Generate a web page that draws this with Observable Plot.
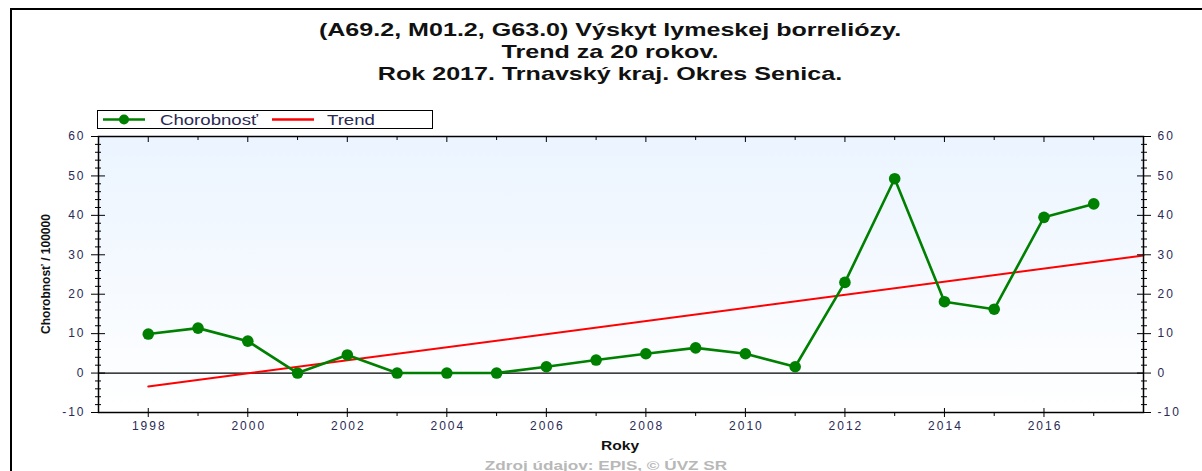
<!DOCTYPE html>
<html><head><meta charset="utf-8">
<script src="https://cdn.jsdelivr.net/npm/d3@7"></script>
<script src="https://cdn.jsdelivr.net/npm/@observablehq/plot@0.6"></script>
<style>
body{margin:0;background:#fff;font-family:"Liberation Sans",Arial,sans-serif;}
#wrap{position:relative;width:1202px;height:471px;overflow:hidden;background:#fff;}
#frame{position:absolute;left:10px;top:8px;width:1300px;height:600px;border-left:2px solid #000;border-top:2px solid #000;}
#title{position:absolute;left:0;width:1220px;top:19px;text-align:center;font-weight:bold;font-size:19px;line-height:22px;color:#111;transform:scaleX(1.32);transform-origin:610px 0;}
#chart{position:absolute;left:0;top:0;}
#chart svg text{letter-spacing:2px;}
#legend{position:absolute;left:97px;top:110px;width:334px;height:17px;border:1px solid #000;background:#fff;font-size:15px;color:#2a2a55;}
#legend .item{position:absolute;top:0;height:17px;line-height:17px;white-space:nowrap;transform:scaleX(1.24);transform-origin:0 0;}
#legend svg{position:absolute;top:0;}
#ylabel{position:absolute;left:46px;top:274px;transform:translate(-50%,-50%) rotate(-90deg);font-weight:bold;font-size:12px;color:#111;white-space:nowrap;}
#xlabel{position:absolute;left:620px;top:445px;transform:translate(-50%,-50%) scaleX(1.2);font-weight:bold;font-size:13px;color:#111;}
#caption{position:absolute;left:606px;top:465px;transform:translate(-50%,-50%) scaleX(1.32);font-weight:bold;font-size:13px;color:#b8b8b8;white-space:nowrap;}
</style></head>
<body>
<div id="wrap">
  <div id="frame"></div>
  <div id="chart"></div>
  <div id="title"></div>
  <div id="legend"></div>
  <div id="ylabel"></div>
  <div id="xlabel"></div>
  <div id="caption"></div>
</div>
<script>
// ---- data ----
const titleLines = ["(A69.2, M01.2, G63.0) Výskyt lymeskej borreliózy.", "Trend za 20 rokov.", "Rok 2017. Trnavský kraj. Okres Senica."];
const years = [1998,1999,2000,2001,2002,2003,2004,2005,2006,2007,2008,2009,2010,2011,2012,2013,2014,2015,2016,2017];
const incidence = [9.9,11.4,8.1,0,4.6,0,0,0,1.6,3.3,4.9,6.4,4.9,1.6,23.0,49.3,18.1,16.2,39.5,42.9];
const trendYears = [1998, 2018];
const trendValues = [-3.4, 29.8];
const xTickLabels = [1998,2000,2002,2004,2006,2008,2010,2012,2014,2016];
const xMinorTicks = [1999,2001,2003,2005,2007,2009,2011,2013,2015,2017];
const yTickLabels = [-10,0,10,20,30,40,50,60];
const yMinorTicks = [-8,-6,-4,-2,2,4,6,8,12,14,16,18,22,24,26,28,32,34,36,38,42,44,46,48,52,54,56,58];
const seriesNames = ["Chorobnosť", "Trend"];
const seriesColors = ["#008000", "#ff0000"];
const yLabel = "Chorobnosť / 100000";
const xLabel = "Roky";
const caption = "Zdroj údajov: EPIS, © ÚVZ SR";

const data = years.map((y, i) => ({year: y, value: incidence[i]}));
const trend = trendYears.map((y, i) => ({year: y, value: trendValues[i]}));

function bgGradient(index, scales, values, dims) {
  const ns = "http://www.w3.org/2000/svg";
  const g = document.createElementNS(ns, "g");
  const w = dims.width - dims.marginLeft - dims.marginRight;
  const h = dims.height - dims.marginTop - dims.marginBottom;
  g.innerHTML = `<defs><linearGradient id="bgGrad" x1="0" y1="0" x2="0" y2="1"><stop offset="0" stop-color="#ebf4ff"/><stop offset="1" stop-color="#ffffff"/></linearGradient></defs><rect x="${dims.marginLeft}" y="${dims.marginTop}" width="${w}" height="${h}" fill="url(#bgGrad)"/>`;
  return g;
}

const blank = () => "";
const num = d => String(d);
const txt = "#2a2a55";
const plot = Plot.plot({
  width: 1202, height: 471,
  marginLeft: 98, marginRight: 59, marginTop: 136, marginBottom: 59,
  style: {background: "transparent", fontFamily: "'Liberation Sans', Arial, sans-serif", fontSize: "12px", color: "#000"},
  x: {domain: [1997, 2018]},
  y: {domain: [-10, 60]},
  marks: [
    bgGradient,
    Plot.ruleY([0], {stroke: "#000", strokeWidth: 1.2}),
    Plot.line(trend, {x: "year", y: "value", stroke: seriesColors[1], strokeWidth: 2}),
    Plot.line(data, {x: "year", y: "value", stroke: seriesColors[0], strokeWidth: 2.6}),
    Plot.dot(data, {x: "year", y: "value", r: 5.8, fill: seriesColors[0]}),
    Plot.frame({stroke: "#000", strokeWidth: 1.5}),
    // bottom axis
    Plot.axisX(xTickLabels, {anchor: "bottom", tickSize: 0, tickPadding: 9, tickFormat: num, color: txt, label: null, fontSize: 12, dx: 1}),
    Plot.axisX(xTickLabels, {anchor: "bottom", tickSize: 5, tickFormat: blank, label: null}),
    Plot.axisX(xTickLabels, {anchor: "bottom", tickSize: -4, tickFormat: blank, label: null}),
    Plot.axisX(xMinorTicks, {anchor: "bottom", tickSize: 4, tickFormat: blank, label: null}),
    // top axis (inward ticks)
    Plot.axisX(xTickLabels, {anchor: "top", tickSize: -5, tickFormat: blank, label: null}),
    Plot.axisX(xMinorTicks, {anchor: "top", tickSize: -3, tickFormat: blank, label: null}),
    // left axis
    Plot.axisY(yTickLabels, {anchor: "left", tickSize: 0, tickPadding: 13, tickFormat: num, color: txt, label: null, fontSize: 12}),
    Plot.axisY(yTickLabels, {anchor: "left", tickSize: 7, tickFormat: blank, label: null}),
    Plot.axisY(yTickLabels, {anchor: "left", tickSize: -7, tickFormat: blank, label: null}),
    Plot.axisY(yMinorTicks, {anchor: "left", tickSize: 3, tickFormat: blank, label: null}),
    Plot.axisY(yMinorTicks, {anchor: "left", tickSize: -3, tickFormat: blank, label: null}),
    // right axis
    Plot.axisY(yTickLabels, {anchor: "right", tickSize: 0, tickPadding: 14, tickFormat: num, color: txt, label: null, fontSize: 12}),
    Plot.axisY(yTickLabels, {anchor: "right", tickSize: 7, tickFormat: blank, label: null}),
    Plot.axisY(yTickLabels, {anchor: "right", tickSize: -7, tickFormat: blank, label: null}),
    Plot.axisY(yMinorTicks, {anchor: "right", tickSize: 3, tickFormat: blank, label: null}),
    Plot.axisY(yMinorTicks, {anchor: "right", tickSize: -3, tickFormat: blank, label: null})
  ]
});
document.getElementById("chart").appendChild(plot);

document.getElementById("title").innerHTML = titleLines.map(t => `<div>${t}</div>`).join("");
document.getElementById("ylabel").textContent = yLabel;
document.getElementById("xlabel").textContent = xLabel;
document.getElementById("caption").textContent = caption;

const legend = document.getElementById("legend");
const legendX = [[5, 62], [174, 229]];
seriesNames.forEach((name, i) => {
  const [sx, tx] = legendX[i];
  const marker = i === 0 ? `<circle cx="21" cy="8.5" r="5" fill="${seriesColors[i]}"/>` : "";
  legend.insertAdjacentHTML("beforeend",
    `<svg width="44" height="17" style="left:${sx}px"><line x1="0" x2="42" y1="8.5" y2="8.5" stroke="${seriesColors[i]}" stroke-width="2.5"/>${marker}</svg><div class="item" style="left:${tx}px">${name}</div>`);
});
</script>
</body></html>
